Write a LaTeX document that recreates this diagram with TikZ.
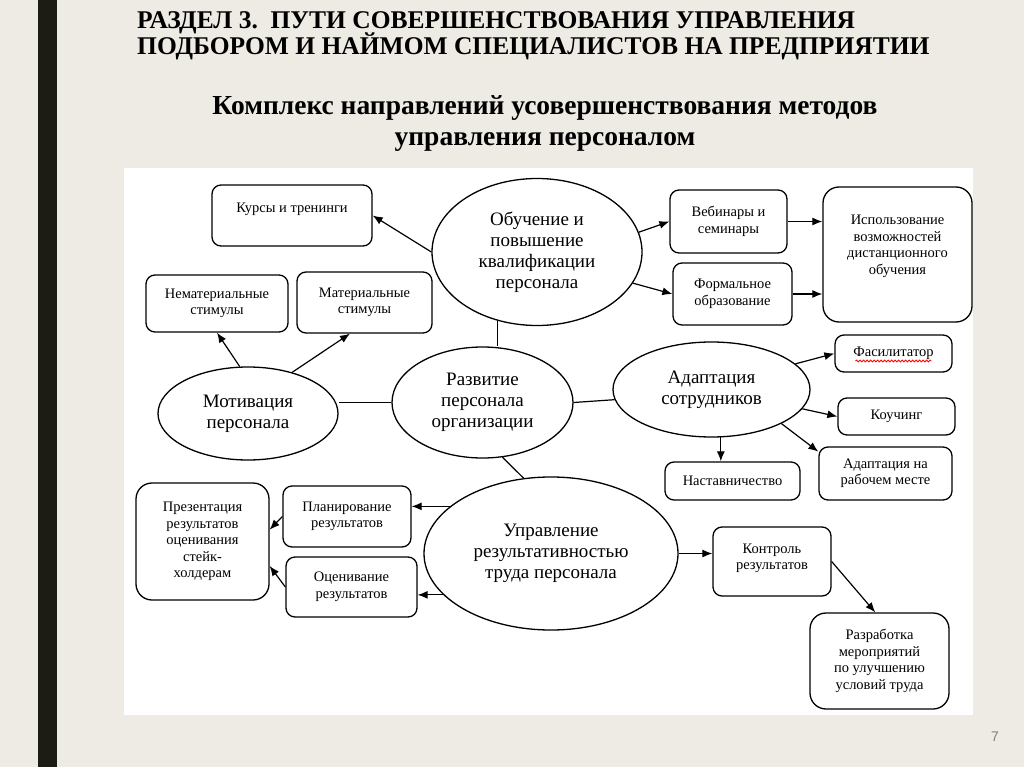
\documentclass[tikz,border=0pt]{standalone}
\usepackage{fontspec}
\setmainfont{Liberation Serif}
\newfontfamily\pagenumfont{Liberation Sans}
\usepackage{xcolor}
\usepackage{tikz}
\usetikzlibrary{positioning,shapes.geometric,arrows.meta,decorations.pathmorphing}

\definecolor{slidebg}{HTML}{EDEBE4}
\definecolor{slidebar}{HTML}{1C1C14}

\begin{document}
\begin{tikzpicture}[auto, x=1pt, y=-1pt,
    heading/.style={anchor=base west, inner sep=0pt, font=\bfseries\fontsize{25.5}{22}\selectfont},
    topic/.style={ellipse, draw, line width=1.3pt, fill=white, inner sep=0pt, align=center, font=\fontsize{19}{21}\selectfont},
    item/.style={rectangle, draw, line width=1.3pt, fill=white, rounded corners=9pt, inner sep=2pt, align=center, font=\fontsize{14.5}{16.5}\selectfont},
    bigitem/.style={item, rounded corners=16pt},
    link/.style={line width=1.2pt},
    arrow/.style={-{Latex[length=10pt, width=8pt]}, line width=1.2pt}]

\useasboundingbox (0,0) rectangle (1024,767);

% Slide background
\fill[slidebg] (0,0) rectangle (1024,767);
\fill[slidebar] (38,0) rectangle (57,767);
\fill[white] (124,168) rectangle (973,715);

% Headings
\node[heading] (razdel) at (137,29) {РАЗДЕЛ 3.\ \ ПУТИ СОВЕРШЕНСТВОВАНИЯ УПРАВЛЕНИЯ};
\node[heading] (podbor) at (137,55) {ПОДБОРОМ И НАЙМОМ СПЕЦИАЛИСТОВ НА ПРЕДПРИЯТИИ};
\node[inner sep=0pt, align=center, font=\bfseries\fontsize{27.5}{31}\selectfont] (kompleks) at (545,124) {Комплекс направлений усовершенствования методов\\управления персоналом};

% Central topics
\node[topic, minimum width=181, minimum height=111] (razvitie) at (482.5,402.5) {Развитие\\персонала\\организации};
\node[topic, minimum width=210, minimum height=147] (obuchenie) at (537,252) {Обучение и\\повышение\\квалификации\\персонала};
\node[topic, minimum width=180, minimum height=93] (motivaciya) at (248,413.5) {Мотивация\\персонала};
\node[topic, minimum width=197, minimum height=95] (adaptaciya) at (711.5,389.5) {Адаптация\\сотрудников};
\node[topic, minimum width=254, minimum height=153] (upravlenie) at (551,553.5) {Управление\\результативностью\\труда персонала};

% Training
\node[item, minimum width=160, minimum height=61, text depth=16pt] (kursy) at (292,215.5) {Курсы и тренинги};
\node[item, minimum width=117, minimum height=63] (vebinary) at (728.5,221.5) {Вебинары и\\семинары};
\node[item, minimum width=119, minimum height=62] (formalnoe) at (732.5,294) {Формальное\\образование};
\node[bigitem, minimum width=149, minimum height=135, text depth=19pt] (distant) at (897.5,254.5) {Использование\\возможностей\\дистанционного\\обучения};

% Motivation
\node[item, minimum width=142, minimum height=57] (nemat) at (217,303.5) {Нематериальные\\стимулы};
\node[item, minimum width=135, minimum height=61] (mater) at (364.5,302.5) {Материальные\\стимулы};

% Adaptation
\node[item, minimum width=117, minimum height=37] (fasil) at (893.5,353.5) {Фасилитатор};
\node[item, minimum width=117, minimum height=37] (kouching) at (896.5,416.5) {Коучинг};
\node[item, minimum width=135, minimum height=38] (nastav) at (732.5,481) {Наставничество};
\node[item, minimum width=133, minimum height=53] (rabmesto) at (885.5,473.5) {Адаптация на\\рабочем месте};

% Performance
\node[item, minimum width=128, minimum height=61] (planir) at (347,516.5) {Планирование\\результатов};
\node[item, minimum width=131, minimum height=60] (ocenka) at (351.5,587) {Оценивание\\результатов};
\node[bigitem, minimum width=133, minimum height=117] (prezent) at (202.5,541.5) {Презентация\\результатов\\оценивания\\стейк-\\холдерам};
\node[item, minimum width=118, minimum height=69, text depth=10pt] (kontrol) at (772,561.5) {Контроль\\результатов};
\node[bigitem, minimum width=139, minimum height=96] (razrab) at (879.5,661) {Разработка\\мероприятий\\по улучшению\\условий труда};

\node[font=\pagenumfont\fontsize{14}{16}\selectfont, text=gray] (pagenum) at (995,737) {7};

% Links between topics
\draw[link] (obuchenie.240) -- (obuchenie.240 |- razvitie.north);
\draw[link] (razvitie.west) -- (razvitie.west -| motivaciya.east);
\draw[link] (razvitie.east) -- (adaptaciya.186);
\draw[link] (razvitie.290) -- (upravlenie.110);

% Arrows
\draw[arrow] (obuchenie.west) -- (kursy.east);
\draw[arrow] (obuchenie.11) -- (vebinary.west);
\draw[arrow] (obuchenie.-18) -- (formalnoe.west);
\draw[arrow] (vebinary.east) -- (vebinary.east -| distant.west);
\draw[arrow] (formalnoe.east) -- (formalnoe.east -| distant.west);
\draw[arrow] (motivaciya.100) -- (nemat.south);
\draw[arrow] (motivaciya.43) -- (mater.245);
\draw[arrow] (adaptaciya.17) -- (fasil.west);
\draw[arrow] (adaptaciya.-12) -- (kouching.west);
\draw[arrow] (adaptaciya.-26) -- (rabmesto.162);
\draw[arrow] (adaptaciya.281) -- (adaptaciya.281 |- nastav.north);
\draw[arrow] (upravlenie.155) -- (upravlenie.155 -| planir.east);
\draw[arrow] (upravlenie.201) -- (upravlenie.201 -| ocenka.east);
\draw[arrow] (planir.west) -- (prezent.10);
\draw[arrow] (ocenka.west) -- (prezent.-20);
\draw[arrow] (upravlenie.east) -- (upravlenie.east -| kontrol.west);
\draw[arrow] (kontrol.east) -- (razrab.95);

% Spell-check mark
\draw[red, line width=0.8pt, decorate, decoration={snake, amplitude=1pt, segment length=3.5pt}] ([xshift=-38pt, yshift=-7.5pt]fasil.center) -- ([xshift=38pt, yshift=-7.5pt]fasil.center);

\end{tikzpicture}
\end{document}
